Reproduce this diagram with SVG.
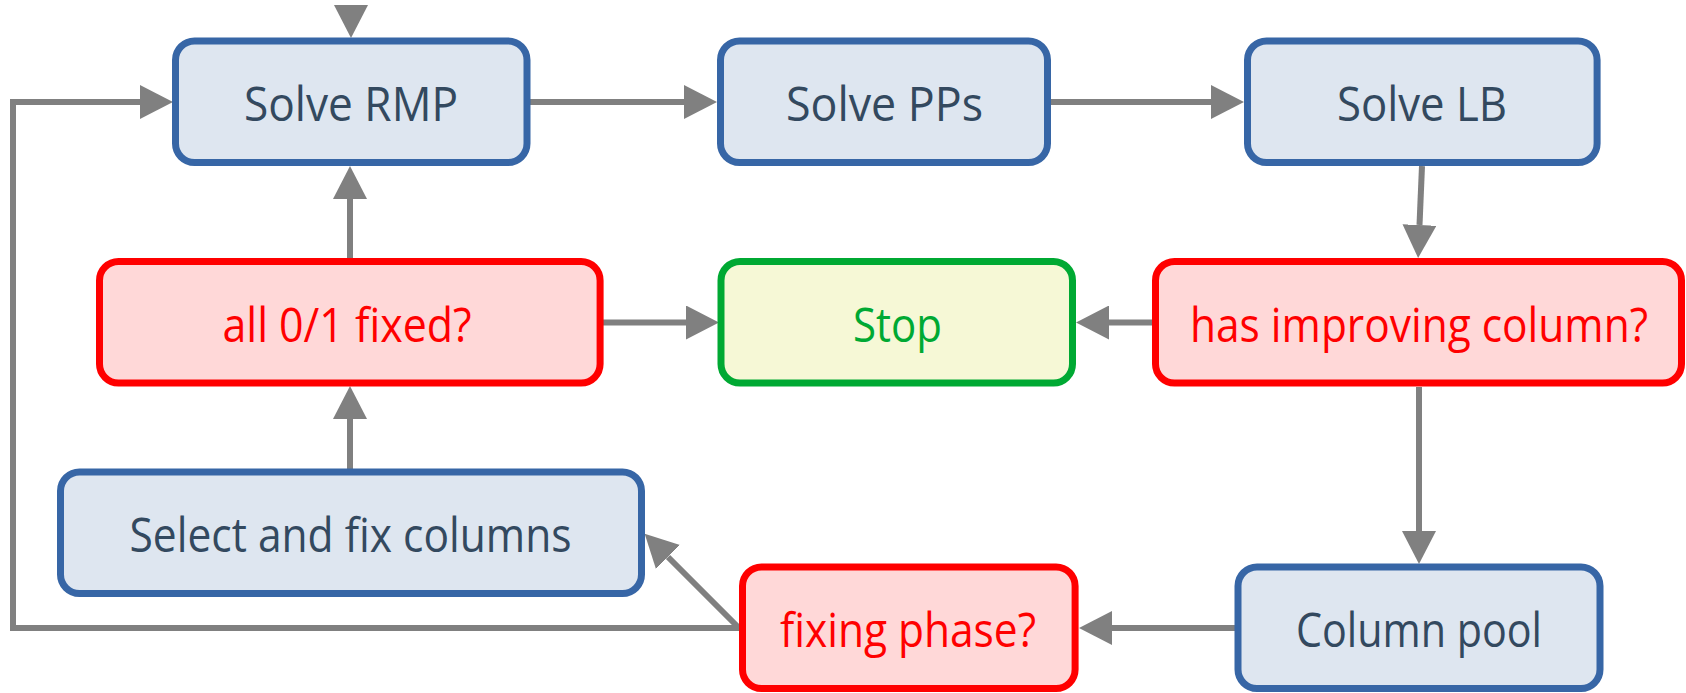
<svg xmlns="http://www.w3.org/2000/svg" width="1686" height="693" viewBox="0 0 1686 693">
<defs>
<style>
.blue rect{fill:#dee6f0;stroke:#3766a6;stroke-width:7}
.blue text{fill:#33495f}
.red rect{fill:#ffd8d8;stroke:#ff0000;stroke-width:7}
.red text{fill:#ff0000}
.green rect{fill:#f6f8d6;stroke:#00a933;stroke-width:7}
.green text{fill:#00a933}
text{font-family:"Open Sans","Liberation Sans",sans-serif;font-size:48px;text-anchor:middle}
.conn path{fill:none;stroke:#808080;stroke-width:6;stroke-linejoin:miter}
</style>
<marker id="ah" viewBox="0 0 33 34" markerWidth="33" markerHeight="34" refX="0" refY="17" orient="auto" markerUnits="userSpaceOnUse">
<path d="M0,0 L33,17 L0,34 z" fill="#808080"/>
</marker>
</defs>
<rect width="1686" height="693" fill="#ffffff"/>
<g class="conn" id="connectors">
<polygon points="334,5 368,5 351,38" fill="#808080"/>
<path d="M530,102 H684" marker-end="url(#ah)"/>
<path d="M1051,102 H1211" marker-end="url(#ah)"/>
<path d="M1422,166 L1419.5,225" marker-end="url(#ah)"/>
<path d="M1419,387 V531" marker-end="url(#ah)"/>
<path d="M1235,628 H1112" marker-end="url(#ah)"/>
<path d="M739,628 L668,557" marker-end="url(#ah)"/>
<path d="M742,628 H13 V102 H140" marker-end="url(#ah)"/>
<path d="M350,470 V419" marker-end="url(#ah)"/>
<path d="M350,259 V199" marker-end="url(#ah)"/>
<path d="M603,322.5 H686" marker-end="url(#ah)"/>
<path d="M1153,322.5 H1109" marker-end="url(#ah)"/>
</g>
<g id="solve-rmp" class="blue"><rect x="175.5" y="41" width="351.5" height="121.5" rx="19"/><text x="351" y="121" textLength="214" lengthAdjust="spacingAndGlyphs">Solve RMP</text></g>
<g id="solve-pps" class="blue"><rect x="720.5" y="41" width="327" height="121.5" rx="19"/><text x="884.5" y="121" textLength="197" lengthAdjust="spacingAndGlyphs">Solve PPs</text></g>
<g id="solve-lb" class="blue"><rect x="1247.5" y="41" width="349.6" height="121.5" rx="19"/><text x="1422" y="121" textLength="170" lengthAdjust="spacingAndGlyphs">Solve LB</text></g>
<g id="all-fixed" class="red"><rect x="99.5" y="261.5" width="500.6" height="121.5" rx="19"/><text x="347" y="342" textLength="249" lengthAdjust="spacingAndGlyphs">all 0/1 fixed?</text></g>
<g id="stop" class="green"><rect x="721" y="261.5" width="351.5" height="121.5" rx="19"/><text x="897.5" y="342" textLength="89" lengthAdjust="spacingAndGlyphs">Stop</text></g>
<g id="has-improving" class="red"><rect x="1155.5" y="261.5" width="526" height="121.5" rx="19"/><text x="1419" y="342" textLength="458" lengthAdjust="spacingAndGlyphs">has improving column?</text></g>
<g id="select-fix" class="blue"><rect x="60.5" y="472" width="581" height="121.5" rx="19"/><text x="350.5" y="552" textLength="442" lengthAdjust="spacingAndGlyphs">Select and fix columns</text></g>
<g id="fixing-phase" class="red"><rect x="742.5" y="567" width="332.6" height="121.5" rx="19"/><text x="908" y="647" textLength="256" lengthAdjust="spacingAndGlyphs">fixing phase?</text></g>
<g id="column-pool" class="blue"><rect x="1238" y="567" width="362" height="121.5" rx="19"/><text x="1419" y="647" textLength="246" lengthAdjust="spacingAndGlyphs">Column pool</text></g>
</svg>
